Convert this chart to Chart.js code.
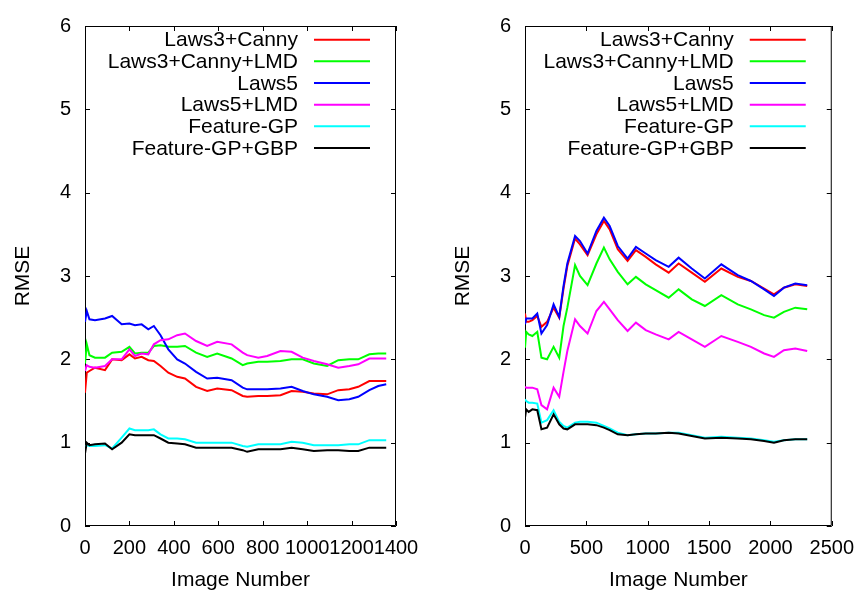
<!DOCTYPE html>
<html>
<head>
<meta charset="utf-8">
<script src="https://cdn.jsdelivr.net/npm/chart.js@4.4.0/dist/chart.umd.min.js"></script>
<style>
  html, body { margin: 0; padding: 0; background: #fff; }
  #wrap { position: relative; width: 864px; height: 595px; }
  canvas { position: absolute; top: 0; }
</style>
</head>
<body>
<div id="wrap">
  <canvas id="leftChart" width="432" height="595" style="left:0"></canvas>
  <canvas id="rightChart" width="432" height="595" style="left:432px"></canvas>
</div>
<script>
const seriesNames = ['Laws3+Canny', 'Laws3+Canny+LMD', 'Laws5', 'Laws5+LMD', 'Feature-GP', 'Feature-GP+GBP'];
const seriesColors = ['#ff0000', '#00ff00', '#0000ff', '#ff00ff', '#00ffff', '#000000'];

// left panel
const leftX = [0, 8, 20, 45, 90, 122, 165, 200, 225, 255, 285, 310, 340, 375, 415, 450, 500, 550, 595, 660,
  710, 730, 780, 820, 880, 930, 980, 1030, 1090, 1140, 1190, 1230, 1280, 1320, 1356];
const leftLaws3Canny = [1.60, 1.84, 1.86, 1.90, 1.87, 2.00, 1.99, 2.06, 2.01, 2.03, 1.99, 1.98, 1.92, 1.84, 1.79, 1.77, 1.67, 1.62, 1.65, 1.63,
  1.56, 1.55, 1.56, 1.56, 1.57, 1.62, 1.61, 1.59, 1.58, 1.63, 1.64, 1.67, 1.74, 1.74, 1.74];
const leftLaws3CannyLMD = [1.95, 2.18, 2.05, 2.02, 2.02, 2.08, 2.09, 2.15, 2.07, 2.08, 2.08, 2.16, 2.17, 2.15, 2.15, 2.16, 2.08, 2.03, 2.07, 2.01,
  1.93, 1.95, 1.97, 1.97, 1.98, 2.00, 2.00, 1.95, 1.92, 1.99, 2.00, 2.00, 2.06, 2.07, 2.07];
const leftLaws5 = [2.45, 2.58, 2.48, 2.47, 2.49, 2.52, 2.42, 2.43, 2.41, 2.42, 2.36, 2.40, 2.29, 2.12, 2.00, 1.95, 1.85, 1.77, 1.78, 1.75,
  1.66, 1.64, 1.64, 1.64, 1.65, 1.67, 1.62, 1.58, 1.55, 1.51, 1.52, 1.55, 1.63, 1.68, 1.70];
const leftLaws5LMD = [1.86, 1.93, 1.91, 1.90, 1.92, 2.00, 2.00, 2.12, 2.04, 2.07, 2.06, 2.18, 2.23, 2.24, 2.29, 2.31, 2.22, 2.16, 2.21, 2.18,
  2.08, 2.05, 2.02, 2.04, 2.10, 2.09, 2.02, 1.98, 1.94, 1.90, 1.92, 1.94, 2.01, 2.01, 2.01];
const leftFeatureGP = [0.95, 0.97, 0.96, 0.96, 0.97, 0.93, 1.06, 1.17, 1.15, 1.15, 1.15, 1.16, 1.10, 1.05, 1.05, 1.04, 1.00, 1.00, 1.00, 1.00,
  0.96, 0.95, 0.98, 0.98, 0.98, 1.01, 1.00, 0.97, 0.97, 0.97, 0.98, 0.98, 1.03, 1.03, 1.03];
const leftFeatureGPGBP = [0.87, 1.00, 0.97, 0.98, 0.99, 0.92, 1.00, 1.10, 1.09, 1.09, 1.09, 1.09, 1.05, 1.00, 0.99, 0.98, 0.94, 0.94, 0.94, 0.94,
  0.91, 0.89, 0.92, 0.92, 0.92, 0.94, 0.92, 0.90, 0.91, 0.91, 0.90, 0.90, 0.94, 0.94, 0.94];

// right panel
const rightX = [0, 10, 30, 60, 100, 134, 180, 233, 279, 314, 345, 408, 448, 510, 582, 643, 690, 756, 836, 904,
  984, 1065, 1171, 1252, 1359, 1466, 1600, 1734, 1841, 1949, 2029, 2110, 2203, 2300];
const rightLaws3Canny = [2.55, 2.45, 2.45, 2.47, 2.52, 2.39, 2.45, 2.62, 2.50, 2.85, 3.12, 3.45, 3.38, 3.25, 3.50, 3.66, 3.56, 3.32, 3.18, 3.31,
  3.23, 3.14, 3.04, 3.15, 3.04, 2.93, 3.09, 2.99, 2.94, 2.85, 2.78, 2.86, 2.90, 2.88];
const rightLaws3CannyLMD = [2.14, 2.33, 2.30, 2.28, 2.33, 2.02, 2.00, 2.15, 2.02, 2.40, 2.62, 3.13, 3.00, 2.89, 3.15, 3.34, 3.20, 3.05, 2.90, 2.99,
  2.90, 2.83, 2.74, 2.84, 2.72, 2.64, 2.77, 2.66, 2.60, 2.53, 2.50, 2.57, 2.62, 2.60];
const rightLaws5 = [2.42, 2.49, 2.49, 2.49, 2.55, 2.31, 2.41, 2.66, 2.51, 2.88, 3.15, 3.48, 3.42, 3.27, 3.54, 3.70, 3.60, 3.36, 3.21, 3.35,
  3.27, 3.19, 3.11, 3.22, 3.09, 2.97, 3.14, 3.01, 2.94, 2.84, 2.76, 2.86, 2.91, 2.89];
const rightLaws5LMD = [1.67, 1.66, 1.66, 1.66, 1.64, 1.45, 1.40, 1.66, 1.55, 1.85, 2.10, 2.48, 2.40, 2.31, 2.58, 2.69, 2.60, 2.47, 2.34, 2.44,
  2.35, 2.30, 2.24, 2.33, 2.24, 2.15, 2.28, 2.21, 2.15, 2.07, 2.03, 2.11, 2.13, 2.10];
const rightFeatureGP = [1.52, 1.50, 1.48, 1.48, 1.47, 1.24, 1.27, 1.39, 1.25, 1.20, 1.18, 1.24, 1.25, 1.25, 1.24, 1.20, 1.17, 1.12, 1.09, 1.10,
  1.11, 1.11, 1.12, 1.12, 1.09, 1.06, 1.07, 1.06, 1.05, 1.03, 1.01, 1.03, 1.04, 1.04];
const rightFeatureGPGBP = [1.30, 1.40, 1.37, 1.40, 1.39, 1.16, 1.18, 1.34, 1.22, 1.17, 1.16, 1.22, 1.22, 1.22, 1.21, 1.18, 1.15, 1.10, 1.09, 1.10,
  1.11, 1.11, 1.12, 1.11, 1.08, 1.05, 1.06, 1.05, 1.04, 1.02, 1.00, 1.03, 1.04, 1.04];

const FONT = '"Liberation Sans", Arial, Helvetica, sans-serif';
Chart.defaults.font.family = FONT;
Chart.defaults.color = '#000';

// gnuplot-like border with inward ticks on all four sides
const framePlugin = {
  id: 'frame',
  beforeDatasetsDraw(chart) {
    const { ctx, chartArea: a, scales } = chart;
    ctx.save();
    ctx.strokeStyle = '#000';
    ctx.lineWidth = 1;
    ctx.beginPath();
    ctx.rect(a.left + 0.5, a.top + 0.5, a.right - a.left - 1, a.bottom - a.top - 1);
    scales.x.ticks.forEach(t => {
      const px = Math.round(scales.x.getPixelForValue(t.value)) + 0.5;
      ctx.moveTo(px, a.bottom); ctx.lineTo(px, a.bottom - 5);
      ctx.moveTo(px, a.top); ctx.lineTo(px, a.top + 5);
    });
    scales.y.ticks.forEach(t => {
      const py = Math.round(scales.y.getPixelForValue(t.value)) + 0.5;
      ctx.moveTo(a.left, py); ctx.lineTo(a.left + 5, py);
      ctx.moveTo(a.right, py); ctx.lineTo(a.right - 5, py);
    });
    ctx.stroke();
    ctx.restore();
  }
};

// key in the top right corner: text right-aligned, line sample after it
const keyPlugin = {
  id: 'key',
  afterDatasetsDraw(chart) {
    const { ctx, chartArea: a } = chart;
    ctx.save();
    ctx.font = '21px ' + FONT;
    ctx.textAlign = 'right';
    ctx.textBaseline = 'middle';
    chart.data.datasets.forEach((ds, i) => {
      const y = a.top + 13.7 + i * 21.66;
      ctx.fillStyle = '#000';
      ctx.fillText(ds.label, a.right - 98, y + 1);
      ctx.strokeStyle = ds.borderColor;
      ctx.lineWidth = 2;
      ctx.beginPath();
      ctx.moveTo(a.right - 82, y);
      ctx.lineTo(a.right - 26, y);
      ctx.stroke();
    });
    ctx.restore();
  }
};

function makeChart(id, xs, series, xMax, xStep, axisWidth, rightPad, titlePad) {
  const ctx = document.getElementById(id).getContext('2d');
  return new Chart(ctx, {
    type: 'line',
    data: {
      datasets: series.map((vals, i) => ({
        label: seriesNames[i],
        data: xs.map((x, k) => ({ x: x, y: vals[k] })),
        borderColor: seriesColors[i],
        borderWidth: 2,
        pointRadius: 0,
        tension: 0,
        fill: false,
        order: series.length - i
      }))
    },
    options: {
      responsive: false,
      animation: false,
      devicePixelRatio: 1,
      layout: { padding: { top: 13, right: rightPad, left: 0, bottom: 0 } },
      plugins: { legend: { display: false }, tooltip: { enabled: false } },
      scales: {
        x: {
          type: 'linear',
          min: 0,
          max: xMax,
          grid: { display: false, drawTicks: false },
          border: { display: false },
          ticks: {
            stepSize: xStep, autoSkip: false, maxRotation: 0, padding: 10, font: { size: 20 },
            callback: v => String(v)
          },
          title: { display: true, text: 'Image Number', font: { size: 21 }, padding: { top: 0, bottom: 2 } },
          afterFit(scale) { scale.height = 69; }
        },
        y: {
          min: 0,
          max: 6,
          grid: { display: false, drawTicks: false },
          border: { display: false },
          ticks: { stepSize: 1, padding: 14, font: { size: 20 } },
          title: { display: true, text: 'RMSE', font: { size: 21 }, padding: { top: titlePad, bottom: 0 } },
          afterFit(scale) { scale.width = axisWidth; }
        }
      }
    },
    plugins: [framePlugin, keyPlugin]
  });
}

makeChart('leftChart', leftX,
  [leftLaws3Canny, leftLaws3CannyLMD, leftLaws5, leftLaws5LMD, leftFeatureGP, leftFeatureGPGBP],
  1400, 200, 85, 36, 11);
makeChart('rightChart', rightX,
  [rightLaws3Canny, rightLaws3CannyLMD, rightLaws5, rightLaws5LMD, rightFeatureGP, rightFeatureGPGBP],
  2500, 500, 93, 28, 19);
</script>
</body>
</html>
